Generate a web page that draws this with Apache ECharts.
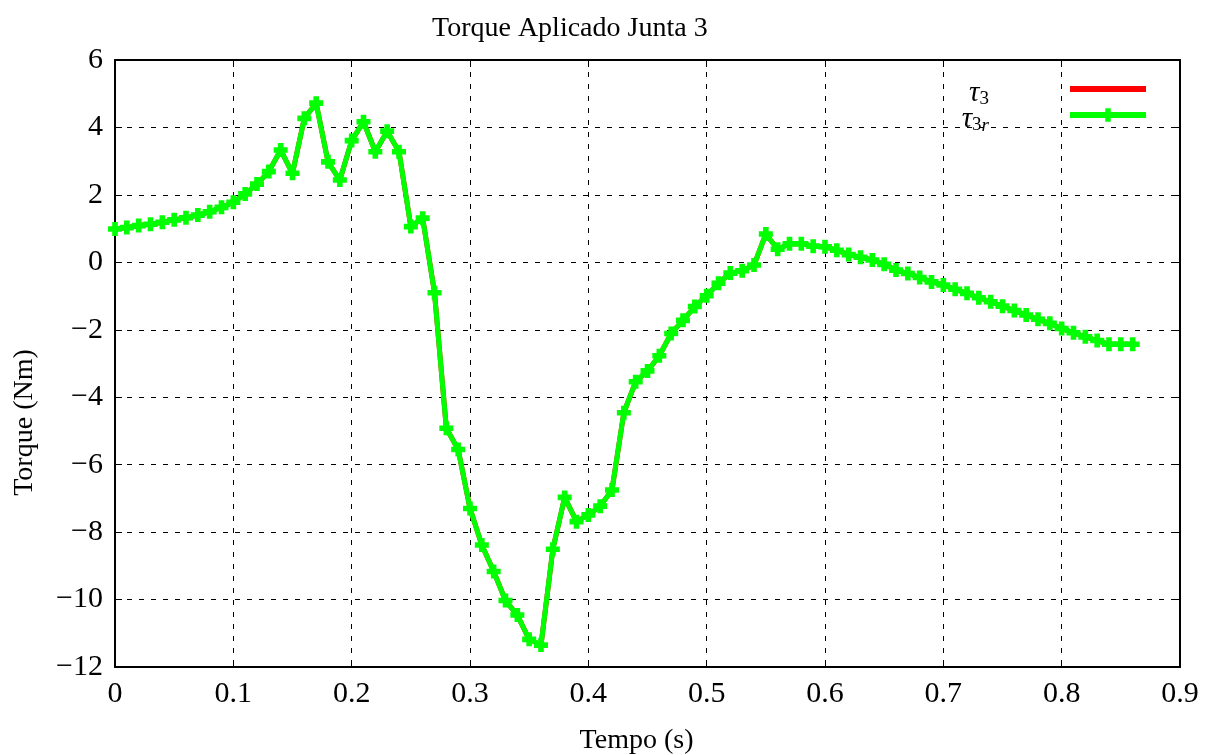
<!DOCTYPE html>
<html>
<head>
<meta charset="utf-8">
<title>Torque Aplicado Junta 3</title>
<script src="https://cdn.jsdelivr.net/npm/echarts@6/dist/echarts.min.js"></script>
<style>
  html, body { margin: 0; padding: 0; background: #fff; }
  #chart { width: 1208px; height: 755px; }
</style>
</head>
<body>
<div id="chart"></div>
<script>
// tempo (s)
var tempo = [
  0.00, 0.01, 0.02, 0.03, 0.04, 0.05, 0.06, 0.07, 0.08, 0.09,
  0.10, 0.11, 0.12, 0.13, 0.14, 0.15, 0.16, 0.17, 0.18, 0.19,
  0.20, 0.21, 0.22, 0.23, 0.24, 0.25, 0.26, 0.27, 0.28, 0.29,
  0.30, 0.31, 0.32, 0.33, 0.34, 0.35, 0.36, 0.37, 0.38, 0.39,
  0.40, 0.41, 0.42, 0.43, 0.44, 0.45, 0.46, 0.47, 0.48, 0.49,
  0.50, 0.51, 0.52, 0.53, 0.54, 0.55, 0.56, 0.57, 0.58, 0.59,
  0.60, 0.61, 0.62, 0.63, 0.64, 0.65, 0.66, 0.67, 0.68, 0.69,
  0.70, 0.71, 0.72, 0.73, 0.74, 0.75, 0.76, 0.77, 0.78, 0.79,
  0.80, 0.81, 0.82, 0.83, 0.84, 0.85, 0.86
];

// torque de referencia tau_3r (Nm)
var tau3r = [
  0.99, 1.03, 1.09, 1.13, 1.19, 1.26, 1.32, 1.40, 1.50, 1.63,
  1.78, 2.03, 2.32, 2.69, 3.33, 2.64, 4.27, 4.72, 2.98, 2.44,
  3.61, 4.17, 3.28, 3.89, 3.28, 1.06, 1.31, -0.90, -4.92, -5.55,
  -7.30, -8.38, -9.17, -10.03, -10.46, -11.18, -11.35, -8.51, -6.97, -7.69,
  -7.49, -7.23, -6.75, -4.46, -3.54, -3.22, -2.77, -2.11, -1.72, -1.31,
  -0.99, -0.62, -0.32, -0.25, -0.08, 0.84, 0.39, 0.55, 0.55, 0.48,
  0.46, 0.36, 0.23, 0.15, 0.07, -0.06, -0.23, -0.33, -0.45, -0.58,
  -0.67, -0.80, -0.92, -1.05, -1.17, -1.30, -1.43, -1.56, -1.69, -1.81,
  -1.96, -2.09, -2.21, -2.32, -2.43, -2.43, -2.43
];

// tau_3 (vermelho) fica escondido debaixo da curva verde
var tau3 = tau3r.slice();

var xTicks = { min: 0, max: 0.9, step: 0.1 };
var yTicks = { min: -12, max: 6, step: 2 };

var fonte = 'Liberation Serif, Times New Roman, serif';
var cruz = 'path://M3,0H7V3H10V7H7V10H3V7H0V3H3Z';
var traco = 'path://M0,0H76V6H0Z';  // so a linha na legenda do vermelho

function pares(xs, ys) {
  var out = [];
  for (var i = 0; i < xs.length; i++) out.push([xs[i], ys[i]]);
  return out;
}

var chart = echarts.init(document.getElementById('chart'), null, { renderer: 'canvas' });

var eixoX = {
  type: 'value', min: xTicks.min, max: xTicks.max, interval: xTicks.step,
  axisLine: { show: true, onZero: false, lineStyle: { color: '#000', width: 2 } },
  axisTick: { show: true, inside: true, length: 7, lineStyle: { color: '#000', width: 1 } },
  splitLine: { show: false }
};
var eixoY = {
  type: 'value', min: yTicks.min, max: yTicks.max, interval: yTicks.step,
  axisLine: { show: true, onZero: false, lineStyle: { color: '#000', width: 2 } },
  axisTick: { show: true, inside: true, length: 7, lineStyle: { color: '#000', width: 1 } },
  splitLine: { show: false }
};

var sub = { fontFamily: fonte, fontSize: 19, lineHeight: 14, color: '#000', verticalAlign: 'top', padding: [11, 0, 0, 0] };

var option = {
  backgroundColor: '#fff',
  animation: false,
  title: {
    text: 'Torque Aplicado Junta 3',
    left: 427, top: 10,
    textStyle: { fontFamily: fonte, fontSize: 28, fontWeight: 'normal', color: '#000' }
  },
  grid: { left: 115, top: 60, width: 1065, height: 607, containLabel: false, outerBoundsMode: 'none' },
  legend: {
    orient: 'vertical', align: 'right',
    right: 59, top: 79, padding: 0,
    itemWidth: 76, itemHeight: 17, itemGap: -4,
    data: [{ name: 'tau3', icon: traco }, { name: 'tau3r' }],
    lineStyle: { width: 6 },
    formatter: function (name) {
      return name === 'tau3' ? '{t|τ}{s|3}{g| }' : '{t|τ}{s|3}{r|r}{g| }';
    },
    textStyle: {
      rich: {
        t: { fontFamily: fonte, fontStyle: 'italic', fontSize: 29, lineHeight: 20, color: '#000', verticalAlign: 'top' },
        s: sub,
        r: Object.assign({}, sub, { fontStyle: 'italic' }),
        g: { width: 76, fontSize: 10, lineHeight: 10, verticalAlign: 'top' }
      }
    }
  },
  xAxis: [
    Object.assign({}, eixoX, {
      position: 'bottom',
      name: 'Tempo (s)', nameLocation: 'middle', nameGap: 60,
      nameTextStyle: { fontFamily: fonte, fontSize: 28, color: '#000', padding: [0, 22, 0, 0] },
      axisLabel: {
        margin: 12, fontFamily: fonte, fontSize: 30, color: '#000',
        formatter: function (v) { return String(Math.round(v * 10) / 10); }
      },
      splitLine: { show: true, lineStyle: { color: '#000', width: 1, type: [5, 7] } }
    }),
    Object.assign({}, eixoX, { position: 'top', axisLabel: { show: false } })
  ],
  yAxis: [
    Object.assign({}, eixoY, {
      position: 'left',
      name: 'Torque (Nm)', nameLocation: 'middle', nameGap: 76,
      nameTextStyle: { fontFamily: fonte, fontSize: 28, color: '#000', padding: [0, 118, 0, 0] },
      axisLabel: {
        margin: 12, fontFamily: fonte, fontSize: 30, color: '#000',
        formatter: function (v) { return v < 0 ? '\u2212' + Math.abs(v) : String(v); }
      },
      splitLine: { show: true, lineStyle: { color: '#000', width: 1, type: [5, 7] } }
    }),
    Object.assign({}, eixoY, { position: 'right', axisLabel: { show: false } })
  ],
  series: [
    {
      name: 'tau3', type: 'line', data: pares(tempo, tau3),
      showSymbol: false, symbol: 'none',
      lineStyle: { color: '#ff0000', width: 5 },
      itemStyle: { color: '#ff0000' },
      z: 2
    },
    {
      name: 'tau3r', type: 'line', data: pares(tempo, tau3r),
      symbol: cruz, symbolSize: 14, showAllSymbol: true,
      lineStyle: { color: '#00ff00', width: 5 },
      itemStyle: { color: '#00ff00' },
      z: 3
    }
  ]
};

chart.setOption(option);
</script>
</body>
</html>
